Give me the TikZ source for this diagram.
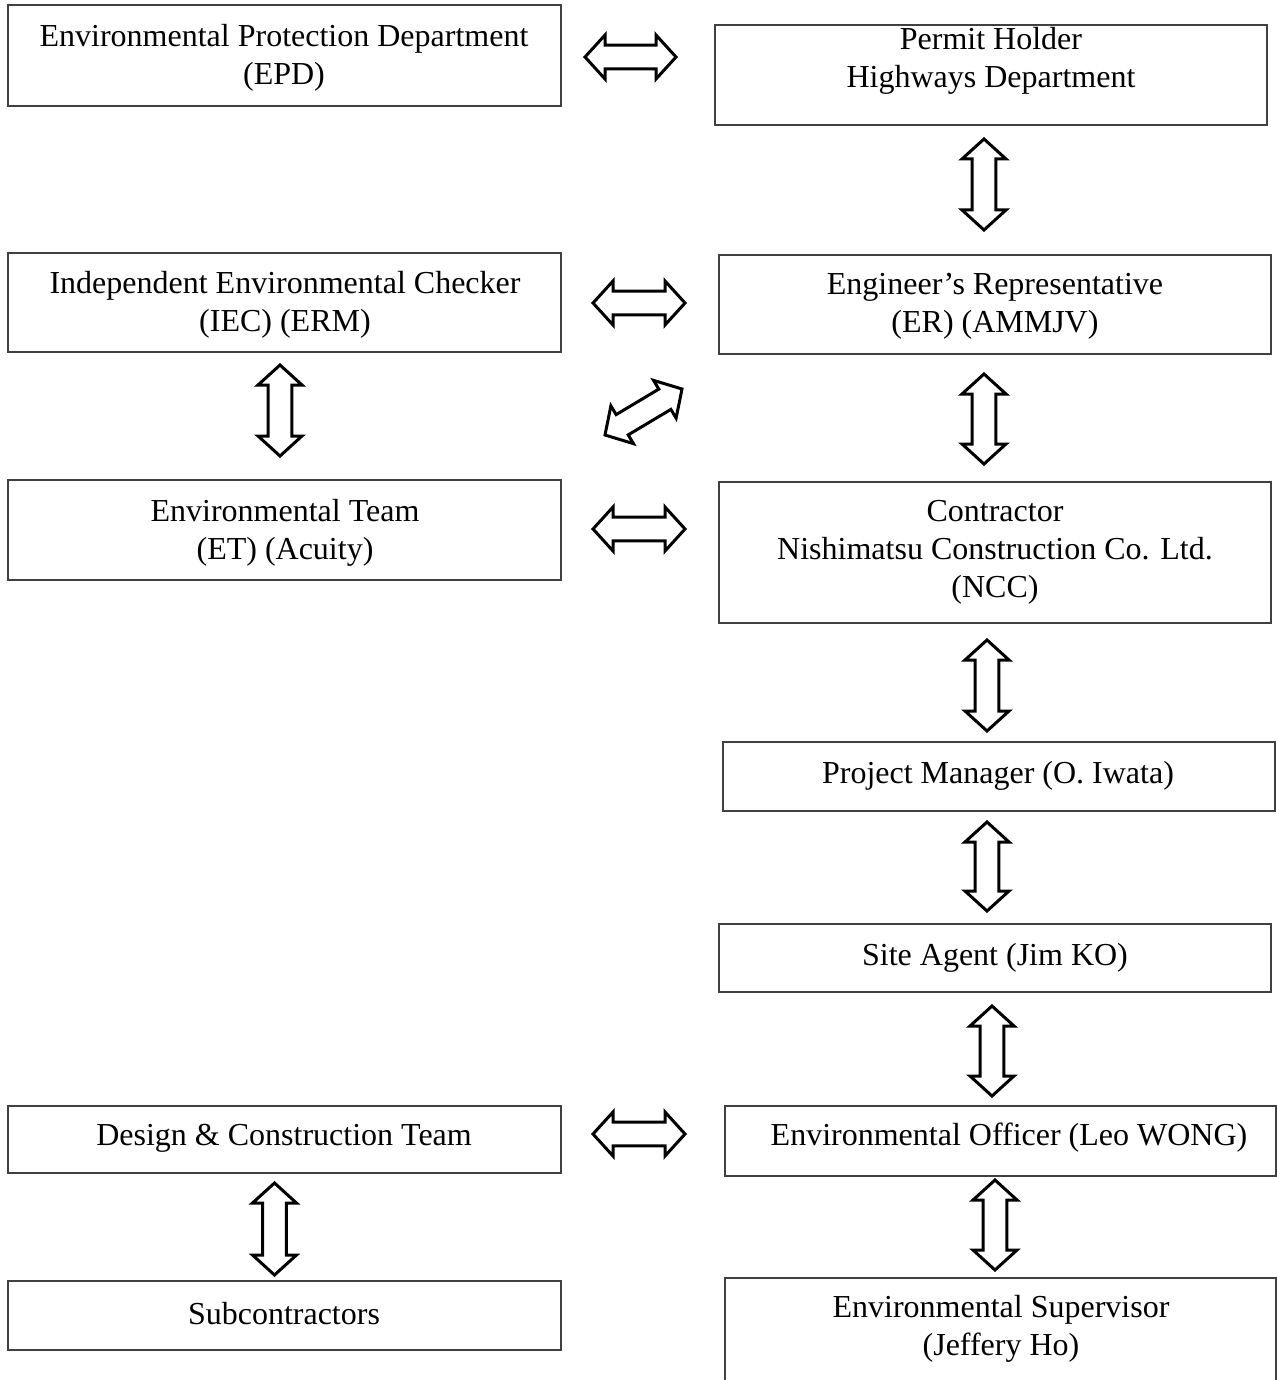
\documentclass[tikz,border=0pt]{standalone}
\usepackage{fontspec}
\setmainfont{Liberation Serif}
\usetikzlibrary{calc,fit}
\tikzset{
  box/.style={draw=black!75, line width=0.8pt, inner sep=0pt, rectangle},
  lbl/.style={align=center, inner sep=0pt, font=\fontsize{16}{19}\selectfont},
  blockarr/.style={draw=black, line width=1.5pt, fill=white, line join=miter},
}
\newcommand\blockarrow[2]{%
  \draw[blockarr] let \p1=(#1), \p2=(#2), \n1={atan2(\y2-\y1,\x2-\x1)} in
  (\p1) -- ($(\p1)+(\n1:10pt)+(\n1+90:11pt)$) -- ($(\p1)+(\n1:10pt)+(\n1+90:5.9pt)$)
  -- ($(\p2)+(\n1+180:10pt)+(\n1+90:5.9pt)$) -- ($(\p2)+(\n1+180:10pt)+(\n1+90:11pt)$)
  -- (\p2) -- ($(\p2)+(\n1+180:10pt)+(\n1-90:11pt)$) -- ($(\p2)+(\n1+180:10pt)+(\n1-90:5.9pt)$)
  -- ($(\p1)+(\n1:10pt)+(\n1-90:5.9pt)$) -- ($(\p1)+(\n1:10pt)+(\n1-90:11pt)$) -- cycle;}
\begin{document}
\begin{tikzpicture}[x=0.5pt,y=-0.5pt]
\clip (0,0) rectangle (1277,1380);
\fill[white] (0,0) rectangle (1277,1380);
% boxes
\node[box, fit={(8,5) (561,106)}] (epd) {};
\node[box, fit={(715,25) (1267,125)}] (ph) {};
\node[box, fit={(8,253) (561,352)}] (iec) {};
\node[box, fit={(719,255) (1271,354)}] (er) {};
\node[box, fit={(8,480) (561,580)}] (et) {};
\node[box, fit={(719,482) (1271,623)}] (con) {};
\node[box, fit={(723,742) (1275,811)}] (pm) {};
\node[box, fit={(719,924) (1271,992)}] (sa) {};
\node[box, fit={(8,1106) (561,1173)}] (dc) {};
\node[box, fit={(725,1106) (1276,1176)}] (eo) {};
\node[box, fit={(8,1281) (561,1350)}] (sub) {};
\node[box, fit={(725,1278) (1276,1400)}] (es) {};
% labels
\node[lbl] (epdt) at (284,58) {Environmental Protection Department\\(EPD)};
\node[lbl] (pht) at (991,61) {Permit Holder\\Highways Department};
\node[lbl] (iect) at (285,305) {Independent Environmental Checker\\(IEC) (ERM)};
\node[lbl] (ert) at (995,306) {Engineer’s Representative\\(ER) (AMMJV)};
\node[lbl] (ett) at (285,533) {Environmental Team\\(ET) (Acuity)};
\node[lbl] (cont) at (995,552) {Contractor\\Nishimatsu Construction Co. Ltd.\\(NCC)};
\node[lbl] (pmt) at (998,776) {Project Manager (O. Iwata)};
\node[lbl] (sat) at (995,958) {Site Agent (Jim KO)};
\node[lbl] (dct) at (284,1138) {Design \& Construction Team};
\node[lbl] (eot) at (1009,1138) {Environmental Officer (Leo WONG)};
\node[lbl] (subt) at (284,1314) {Subcontractors};
\node[lbl] (est) at (1001,1329) {Environmental Supervisor\\(Jeffery Ho)};
% arrow ends
\coordinate (a1s) at (585,57);   \coordinate (a1e) at (676,57);
\coordinate (a2s) at (984,139);  \coordinate (a2e) at (984,230);
\coordinate (a3s) at (593,303);  \coordinate (a3e) at (685,303);
\coordinate (a4s) at (280,365);  \coordinate (a4e) at (280,456);
\coordinate (a5s) at (605,435);  \coordinate (a5e) at (682,389);
\coordinate (a6s) at (984,374);  \coordinate (a6e) at (984,464);
\coordinate (a7s) at (593,529);  \coordinate (a7e) at (685,529);
\coordinate (a8s) at (987,640);  \coordinate (a8e) at (987,731);
\coordinate (a9s) at (987,822);  \coordinate (a9e) at (987,911);
\coordinate (a10s) at (992,1006); \coordinate (a10e) at (992,1096);
\coordinate (a11s) at (593,1134); \coordinate (a11e) at (685,1134);
\coordinate (a12s) at (274.5,1183); \coordinate (a12e) at (274.5,1275);
\coordinate (a13s) at (995,1180); \coordinate (a13e) at (995,1270);
\blockarrow{a1s}{a1e}
\blockarrow{a2s}{a2e}
\blockarrow{a3s}{a3e}
\blockarrow{a4s}{a4e}
\blockarrow{a5s}{a5e}
\blockarrow{a6s}{a6e}
\blockarrow{a7s}{a7e}
\blockarrow{a8s}{a8e}
\blockarrow{a9s}{a9e}
\blockarrow{a10s}{a10e}
\blockarrow{a11s}{a11e}
\blockarrow{a12s}{a12e}
\blockarrow{a13s}{a13e}
\end{tikzpicture}
\end{document}
